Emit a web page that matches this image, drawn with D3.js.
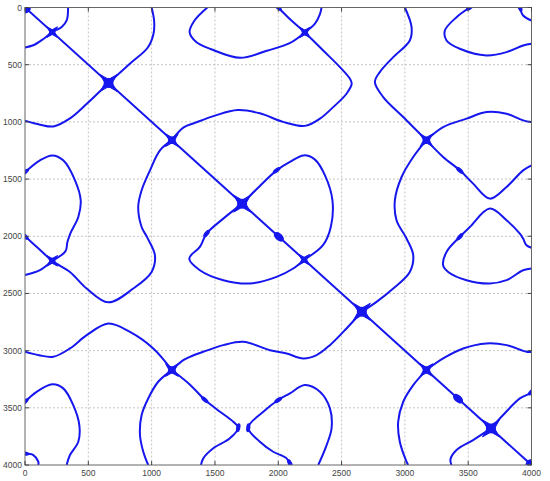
<!DOCTYPE html>
<html>
<head>
<meta charset="utf-8">
<script src="https://cdn.jsdelivr.net/npm/d3@7"></script>
<style>
body { margin: 0; background: #fff; }
</style>
</head>
<body>
<svg id="chart" width="550" height="481"></svg>
<script>
// tick values (same on both axes)
var ticks = [0, 500, 1000, 1500, 2000, 2500, 3000, 3500, 4000];

// traced curves, in data units [x, y] (y grows downward)
var diagonal = [[0, 0], [4000, 4000]];
var arcTopLeft = [[340, 0], [330, 110], [290, 170], [215, 215], [145, 275], [65, 330], [0, 350]];
var curveC = [[1000, 0], [1020, 120], [1015, 230], [970, 350], [830, 490], [660, 660], [490, 840], [355, 970], [225, 1040], [120, 1025], [0, 990]];
var loopTop = [[1440, 0], [1336, 118], [1300, 216], [1350, 300], [1470, 365], [1700, 440], [1910, 378], [2090, 312], [2210, 218]];
var loopLeft = [[0, 1440], [118, 1336], [216, 1293], [302, 1336], [395, 1511], [440, 1686], [421, 1831], [360, 1970], [335, 2050], [320, 2130], [215, 2215]];
var curveF1 = [[0, 2000], [100, 2100], [215, 2215], [355, 2312], [487, 2457], [658, 2578], [855, 2457], [1000, 2312], [1026, 2166], [965, 2010], [921, 1919], [894, 1744], [921, 1598], [987, 1424], [1066, 1249], [1160, 1160]];
var curveF2 = [[0, 2340], [118, 2297], [215, 2215]];
var curveG1 = [[2000, 0], [2100, 110], [2210, 218], [2355, 376], [2487, 521], [2566, 623], [2580, 666], [2539, 754], [2434, 871], [2329, 972], [2210, 1035], [2039, 1000], [1855, 925], [1680, 897], [1500, 945], [1342, 1009], [1250, 1050], [1160, 1160]];
var curveG2 = [[2210, 218], [2290, 142], [2330, 55], [2342, 0]];
var loopMidRight = [[1715, 1715], [1855, 1560], [1987, 1424], [2092, 1350], [2200, 1293], [2290, 1330], [2370, 1470], [2428, 1686], [2415, 1919], [2355, 2075], [2205, 2205]];
var loopMidLeft = [[1715, 1715], [1566, 1846], [1434, 1977], [1381, 2093], [1297, 2195], [1381, 2297], [1566, 2384], [1776, 2413], [1987, 2355], [2118, 2282], [2205, 2205]];
var curveJ1 = [[2660, 2660], [2776, 2574], [2908, 2457], [3039, 2312], [3066, 2166], [3013, 2020], [2934, 1860], [2921, 1686], [2974, 1482], [3066, 1307], [3170, 1160]];
var curveJ2 = [[2660, 2660], [2539, 2806], [2408, 2952], [2303, 3039], [2197, 3068], [2066, 3025], [1934, 2996], [1724, 2923], [1566, 2952], [1408, 3010], [1302, 3054], [1250, 3083], [1160, 3170]];
var curveK1 = [[3170, 1160], [2987, 958], [2829, 783], [2763, 652], [2802, 565], [2908, 434], [3039, 288], [3053, 172], [3000, 0]];
var curveK2 = [[3170, 1160], [3302, 1046], [3487, 972], [3645, 914], [3803, 929], [3934, 987], [4000, 1002]];
var curveK3 = [[3170, 1160], [3302, 1307], [3434, 1424], [3539, 1540], [3671, 1671], [3803, 1569], [3934, 1424], [4000, 1380]];
var curveL1 = [[1160, 3170], [1013, 2981], [829, 2836], [658, 2763], [487, 2865], [355, 2981], [223, 3054], [110, 3040], [0, 3010]];
var curveL2 = [[1160, 3170], [1307, 3302], [1420, 3430], [1540, 3534], [1645, 3622], [1684, 3674], [1618, 3767], [1487, 3854], [1408, 3942], [1390, 4000]];
var curveL3 = [[1160, 3170], [1052, 3272], [973, 3418], [921, 3563], [908, 3738], [934, 3884], [973, 4000]];
var curveM1 = [[3170, 3170], [3302, 3068], [3460, 2981], [3645, 2937], [3803, 2952], [3960, 3010], [4000, 3010]];
var curveM2 = [[3170, 3170], [3066, 3301], [2987, 3447], [2947, 3622], [2960, 3797], [3013, 3971], [3026, 4000]];
var curveN1 = [[3680, 3680], [3776, 3563], [3908, 3418], [3987, 3374], [4000, 3360]];
var curveN2 = [[3680, 3680], [3539, 3782], [3408, 3869], [3360, 3950], [3368, 4000]];
var loopTopRight = [[3513, 0], [3408, 85], [3316, 201], [3329, 288], [3434, 361], [3645, 419], [3803, 390], [3934, 332], [4000, 317]];
var arcTopRight = [[3908, 0], [3934, 70], [4000, 114]];
var loopBottomLeft = [[0, 3447], [92, 3360], [216, 3295], [302, 3330], [381, 3476], [429, 3651], [421, 3797], [355, 3913], [329, 4000]];
var arcBottomLeft = [[0, 3900], [66, 3913], [105, 3971], [105, 4000]];
var loopRight = [[4000, 2100], [3960, 2079], [3934, 2020], [3908, 1977], [3803, 1860], [3671, 1758], [3513, 1919], [3434, 2005], [3329, 2137], [3302, 2254], [3342, 2312], [3487, 2384], [3671, 2413], [3803, 2384], [3934, 2297], [4000, 2282]];
var loopBottom = [[2092, 4000], [2066, 3942], [1960, 3884], [1855, 3797], [1763, 3674], [1882, 3534], [2000, 3432], [2092, 3374], [2210, 3301], [2329, 3360], [2408, 3505], [2421, 3680], [2382, 3826], [2316, 4000]];

var curves = [diagonal, arcTopLeft, curveC, loopTop, loopLeft, curveF1, curveF2, curveG1, curveG2,
    loopMidRight, loopMidLeft, curveJ1, curveJ2, curveK1, curveK2, curveK3, curveL1, curveL2, curveL3,
    curveM1, curveM2, curveN1, curveN2, loopTopRight, arcTopRight, loopBottomLeft, arcBottomLeft,
    loopRight, loopBottom];

// crossing points, grouped by how big the blob looks
var bigCross = [[660, 660], [1715, 1715], [2660, 2660], [3680, 3680]];
var midCross = [[1160, 1160], [3170, 1160], [1160, 3170], [3170, 3170]];
var smallCross = [[215, 215], [215, 2215], [2210, 218], [2205, 2205]];
var cornerBlobs = [[0, 0], [4000, 4000]];
var diagBlobs = [[2005, 2005], [3420, 3420]];
// thicker spots along the curves
var thickSpots = [[0, 1440], [0, 2000], [2000, 0], [3513, 0], [3908, 0], [4000, 3360], [0, 3447], [0, 3900],
    [1987, 1424], [1434, 1977], [3434, 1424], [3434, 2005], [2000, 3432], [2092, 3985],
    [1684, 3674], [1763, 3674], [1420, 3430]];

var svg = d3.select("#chart");
var x = d3.scaleLinear().domain([0, 4000]).range([25, 531.5]);
var y = d3.scaleLinear().domain([0, 4000]).range([7.5, 465]);
var blue = "#1616ee";

svg.append("clipPath").attr("id", "plot-clip")
    .append("rect")
    .attr("x", x(0)).attr("y", y(0))
    .attr("width", x(4000) - x(0)).attr("height", y(4000) - y(0));

// grid
var grid = svg.append("g").attr("stroke", "#c4c4c4").attr("stroke-width", 1).attr("stroke-dasharray", "2,2");
grid.selectAll(".gx").data(ticks.slice(1, -1)).enter().append("line")
    .attr("x1", function(d) { return x(d); }).attr("x2", function(d) { return x(d); })
    .attr("y1", y(0)).attr("y2", y(4000));
grid.selectAll(".gy").data(ticks.slice(1, -1)).enter().append("line")
    .attr("y1", function(d) { return y(d); }).attr("y2", function(d) { return y(d); })
    .attr("x1", x(0)).attr("x2", x(4000));

// curves
var plot = svg.append("g").attr("clip-path", "url(#plot-clip)");
var line = d3.line()
    .x(function(d) { return x(d[0]); })
    .y(function(d) { return y(d[1]); })
    .curve(d3.curveCatmullRom.alpha(0.5));

plot.selectAll("path.curve").data(curves).enter().append("path")
    .attr("class", "curve")
    .attr("d", line)
    .attr("fill", "none")
    .attr("stroke", blue)
    .attr("stroke-width", 2)
    .attr("stroke-linejoin", "round");

// 4 pointed star drawn round a crossing
function star(cx, cy, R, r) {
    var p = d3.path();
    for (var i = 0; i < 8; i++) {
        var a = Math.PI / 4 + i * Math.PI / 4;
        var rad = (i % 2 == 0) ? R : r;
        var px = cx + rad * Math.cos(a), py = cy + rad * Math.sin(a);
        if (i == 0) p.moveTo(px, py); else p.lineTo(px, py);
    }
    p.closePath();
    return p.toString();
}

function drawStars(data, R, r, core) {
    plot.append("g").selectAll("path").data(data).enter().append("path")
        .attr("d", function(d) { return star(x(d[0]), y(d[1]), R, r); })
        .attr("fill", blue)
        .attr("stroke", blue)
        .attr("stroke-width", 1)
        .attr("stroke-linejoin", "round");
    plot.append("g").selectAll("circle").data(data).enter().append("circle")
        .attr("cx", function(d) { return x(d[0]); })
        .attr("cy", function(d) { return y(d[1]); })
        .attr("r", core)
        .attr("fill", blue);
}
drawStars(bigCross, 12, 3.6, 5);
drawStars(midCross, 9, 2.8, 3.8);
drawStars(smallCross, 7.5, 2.4, 3);

plot.selectAll("circle.corner").data(cornerBlobs).enter().append("circle")
    .attr("class", "corner")
    .attr("cx", function(d) { return x(d[0]); })
    .attr("cy", function(d) { return y(d[1]); })
    .attr("r", 6)
    .attr("fill", blue);

plot.selectAll("ellipse.diag").data(diagBlobs).enter().append("ellipse")
    .attr("class", "diag")
    .attr("transform", function(d) { return "translate(" + x(d[0]) + "," + y(d[1]) + ") rotate(42)"; })
    .attr("rx", 6).attr("ry", 3.6)
    .attr("fill", blue);

// direction of the nearest traced curve, so a thick spot lies along it
function localAngle(d) {
    var best = null, bestDist = Infinity;
    curves.forEach(function(c) {
        c.forEach(function(p, i) {
            var dd = (p[0] - d[0]) * (p[0] - d[0]) + (p[1] - d[1]) * (p[1] - d[1]);
            if (dd < bestDist) { bestDist = dd; best = [c, i]; }
        });
    });
    var c = best[0], i = best[1];
    var a = c[Math.max(0, i - 1)], b = c[Math.min(c.length - 1, i + 1)];
    return Math.atan2(y(b[1]) - y(a[1]), x(b[0]) - x(a[0])) * 180 / Math.PI;
}

plot.selectAll("ellipse.thick").data(thickSpots).enter().append("ellipse")
    .attr("class", "thick")
    .attr("transform", function(d) { return "translate(" + x(d[0]) + "," + y(d[1]) + ") rotate(" + localAngle(d) + ")"; })
    .attr("rx", 4.5).attr("ry", 2.1)
    .attr("fill", blue);

// frame and ticks
svg.append("rect")
    .attr("x", x(0)).attr("y", y(0))
    .attr("width", x(4000) - x(0)).attr("height", y(4000) - y(0))
    .attr("fill", "none").attr("stroke", "#666").attr("stroke-width", 1);

var axes = svg.append("g").attr("stroke", "#444").attr("stroke-width", 1);
ticks.forEach(function(t) {
    axes.append("line").attr("x1", x(t)).attr("x2", x(t)).attr("y1", y(4000)).attr("y2", y(4000) - 4);
    axes.append("line").attr("x1", x(t)).attr("x2", x(t)).attr("y1", y(0)).attr("y2", y(0) + 4);
    axes.append("line").attr("y1", y(t)).attr("y2", y(t)).attr("x1", x(0)).attr("x2", x(0) + 4);
    axes.append("line").attr("y1", y(t)).attr("y2", y(t)).attr("x1", x(4000)).attr("x2", x(4000) - 4);
});

var labels = svg.append("g")
    .attr("font-family", "Liberation Sans, Arial, sans-serif")
    .attr("font-size", "8.5px")
    .attr("fill", "#444");
labels.selectAll("text.yl").data(ticks).enter().append("text")
    .attr("x", x(0) - 3)
    .attr("y", function(d) { return y(d) + 3; })
    .attr("text-anchor", "end")
    .text(function(d) { return d; });
labels.selectAll("text.xl").data(ticks).enter().append("text")
    .attr("x", function(d) { return x(d); })
    .attr("y", y(4000) + 11)
    .attr("text-anchor", "middle")
    .text(function(d) { return d; });
</script>
</body>
</html>
